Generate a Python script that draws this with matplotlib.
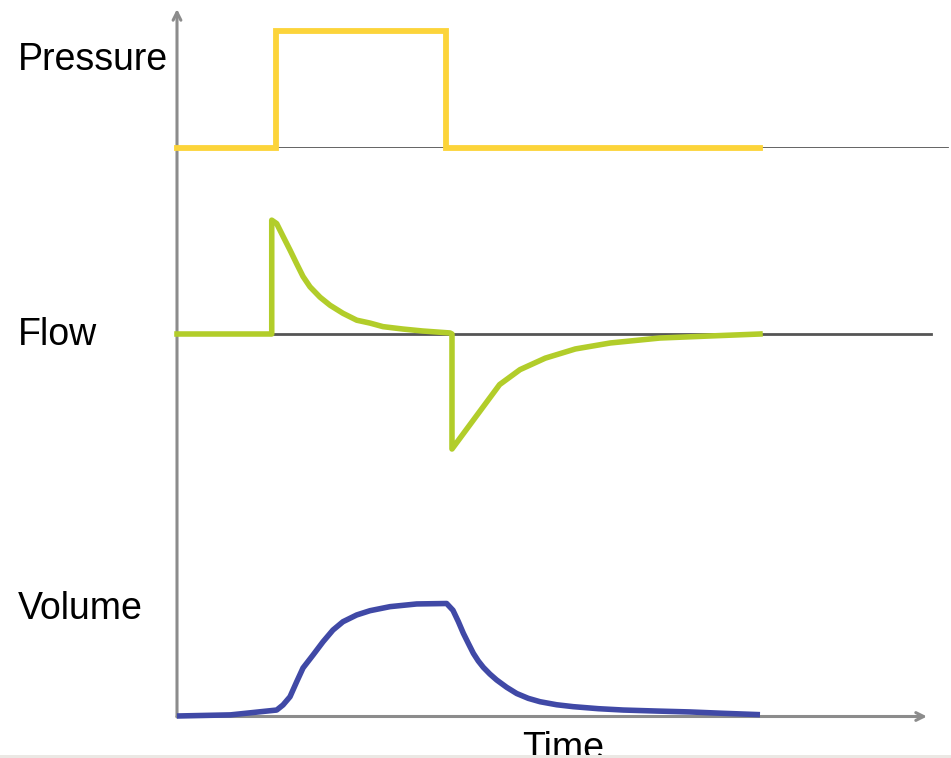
import matplotlib
matplotlib.use("Agg")
import matplotlib.pyplot as plt
from matplotlib.patches import Rectangle

# time in seconds, traces run from 0 to 6 s
pressure_t = [0, 1.02, 1.02, 2.77, 2.77, 6.0]
pressure_v = [0, 0, 1, 1, 0, 0]

flow_t = [0, 0.975, 0.975, 1.026, 1.091, 1.163, 1.232, 1.297, 1.369, 1.472, 1.575,
          1.708, 1.850, 1.986, 2.12, 2.326, 2.53, 2.81, 2.83,
          2.83, 3.32, 3.53, 3.79, 4.10, 4.46, 4.97, 5.49, 6.0]
flow_v = [0, 0, 0.99, 0.96, 0.85, 0.73, 0.61, 0.50, 0.41, 0.32, 0.25,
          0.18, 0.12, 0.095, 0.064, 0.043, 0.026, 0.009, 0.0,
          -1.0, -0.44, -0.31, -0.21, -0.13, -0.078, -0.035, -0.017, 0]

volume_t = [0, 0.55, 1.026, 1.091, 1.163, 1.232, 1.297, 1.40, 1.503, 1.605, 1.708,
            1.849, 1.986, 2.192, 2.467, 2.775, 2.84, 2.895, 2.947, 2.998, 3.05,
            3.10, 3.153, 3.22, 3.29, 3.393, 3.496, 3.615, 3.736, 3.907, 4.078,
            4.336, 4.593, 4.937, 5.28, 5.62, 6.0]
volume_v = [0, 0.01, 0.053, 0.098, 0.171, 0.305, 0.427, 0.542, 0.66, 0.764, 0.838,
            0.898, 0.936, 0.972, 0.996, 1.0, 0.94, 0.84, 0.735, 0.646, 0.557,
            0.49, 0.432, 0.373, 0.32, 0.255, 0.20, 0.157, 0.127, 0.10, 0.083,
            0.065, 0.053, 0.044, 0.036, 0.024, 0.012]

labels = ["Pressure", "Flow", "Volume"]

W, H = 951, 758
X0 = 177              # pixel of t = 0
SCALE = 583 / 6.0     # pixels per second
XLIM = (-X0 / SCALE, (W - X0) / SCALE)

fig = plt.figure(figsize=(W / 100, H / 100), dpi=100)
fig.patch.set_facecolor("white")


def fy(px):
    return 1 - px / H


def panel(top_px, bottom_px, ylim):
    a = fig.add_axes([0, fy(bottom_px), 1, (bottom_px - top_px) / H])
    a.set_xlim(*XLIM)
    a.set_ylim(*ylim)
    a.axis("off")
    a.patch.set_alpha(0)
    return a


# background axes for the time / signal axis arrows
bg = fig.add_axes([0, 0, 1, 1])
bg.set_xlim(*XLIM)
bg.set_ylim(0, 1)
bg.axis("off")
arrow = dict(arrowstyle="->", color="#8c8c8c", lw=2.2, mutation_scale=14,
             shrinkA=0, shrinkB=0)
bg.annotate("", xy=(0, fy(9)), xytext=(0, fy(717)), arrowprops=arrow)
bg.annotate("", xy=((927 - X0) / SCALE, fy(716.5)), xytext=(0, fy(716.5)),
            arrowprops=arrow)

ax_p = panel(31, 148, (0, 1))
ax_f = panel(219, 449, (-1, 1))
ax_v = panel(603.5, 716, (0, 1))

ax_p.axhline(0, xmin=X0 / W, xmax=947 / W, color="#555555", lw=2.0, zorder=1)
ax_f.axhline(0, xmin=X0 / W, xmax=931 / W, color="#555555", lw=2.0, zorder=1)

ax_p.plot(pressure_t, pressure_v, color="#FCD43A", lw=4.2, clip_on=False,
          solid_joinstyle="miter", zorder=3)
ax_f.plot(flow_t, flow_v, color="#B2CD2A", lw=4.0, clip_on=False,
          solid_joinstyle="round", zorder=3)
ax_v.plot(volume_t, volume_v, color="#4049A6", lw=4.0, clip_on=False,
          solid_joinstyle="round", solid_capstyle="butt", zorder=3)

font = ["Liberation Sans", "DejaVu Sans"]
for lab, base in zip(labels, [70.5, 345, 619]):
    fig.text(18 / W, fy(base), lab, fontsize=27, family=font,
             ha="left", va="baseline", color="black")
fig.text(563 / W, fy(759), "Time", fontsize=27, family=font,
         ha="center", va="baseline", color="black")

# light strip along the bottom edge, covering the cut-off label
fig.patches.append(Rectangle((0, 0), 1, 2.6 / H, transform=fig.transFigure,
                             facecolor="#ebe8e4", edgecolor="none", zorder=10))

fig.savefig("out.png", dpi=100)
